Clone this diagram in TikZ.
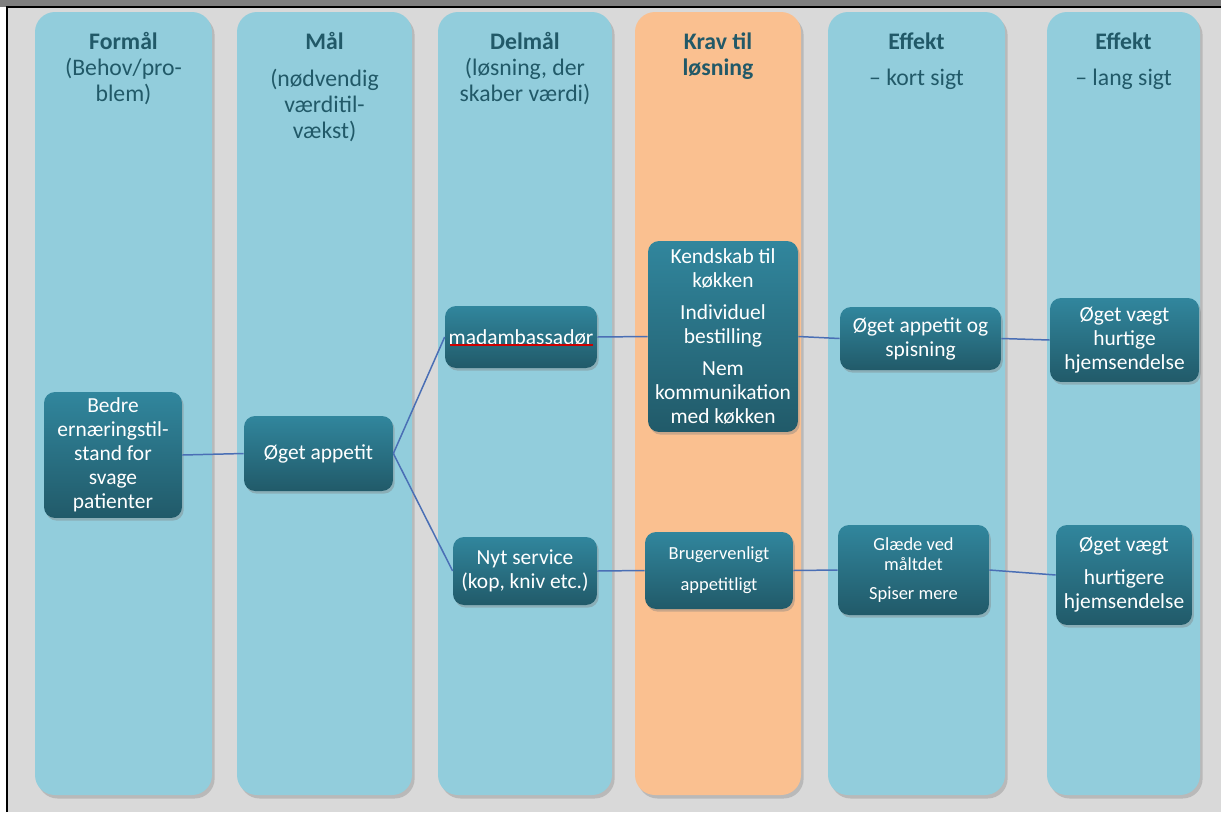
\documentclass[tikz,border=0pt]{standalone}
\usepackage{fontspec}
\setmainfont{Carlito}
\usetikzlibrary{shadows}
\definecolor{colblue}{HTML}{92CDDC}
\definecolor{colorange}{HTML}{FAC090}
\definecolor{headteal}{HTML}{215968}
\definecolor{boxtop}{HTML}{31869D}
\definecolor{boxbot}{HTML}{215A69}
\definecolor{linkblue}{HTML}{4A6FB5}
\definecolor{bggray}{HTML}{D9D9D9}
\definecolor{bargray}{HTML}{7F7F7F}

\begin{document}
\begin{tikzpicture}[x=0.02cm, y=-0.02cm,
  column/.style={rounded corners=0.4cm, drop shadow={shadow xshift=1.5pt, shadow yshift=-2pt, opacity=0.35}},
  head/.style={anchor=north, inner sep=0pt, text=headteal, align=center, font=\fontsize{13.5}{14.8}\selectfont},
  box/.style={rounded corners=0.22cm, top color=boxtop, bottom color=boxbot, text=white, align=center,
    inner sep=2pt, font=\fontsize{12.2}{13.7}\selectfont, drop shadow={shadow xshift=1pt, shadow yshift=-1.5pt, opacity=0.4}},
  small/.style={font=\fontsize{10.5}{11.5}\selectfont},
  link/.style={draw=linkblue, line width=0.85pt}]
  \useasboundingbox (0,0) rectangle (1221,812);
  % frame
  \fill[bargray] (0,0) rectangle (1221,7);
  \fill[bggray] (7,7) rectangle (1221,812);
  \draw[line width=1.5pt] (7,812) -- (7,7) -- (1221,7);
  % columns
  \fill[colblue, column] (35,12) rectangle (212,795);
  \fill[colblue, column] (237,12) rectangle (412,795);
  \fill[colblue, column] (438,12) rectangle (612,795);
  \fill[colorange, column] (635,12) rectangle (801,795);
  \fill[colblue, column] (828,12) rectangle (1005,795);
  \fill[colblue, column] (1047,12) rectangle (1200,795);
  % headings
  \node[head] (hformaal) at (123.5,32) {\textbf{Formål}\\(Behov/pro-\\blem)};
  \node[head] (hmaal) at (324.5,32) {\textbf{Mål}\\[6pt](nødvendig\\værditil-\\vækst)};
  \node[head] (hdelmaal) at (525,32) {\textbf{Delmål}\\(løsning, der\\skaber værdi)};
  \node[head] (hkrav) at (718,32) {\textbf{Krav til}\\\textbf{løsning}};
  \node[head] (hkort) at (916.5,32) {\textbf{Effekt}\\[6pt]– kort sigt};
  \node[head] (hlang) at (1123.5,32) {\textbf{Effekt}\\[6pt]– lang sigt};
  % boxes
  \node[box, minimum width=2.76cm, minimum height=2.52cm] (formaal) at (113,455)
    {Bedre\\ernæringstil-\\stand for\\svage\\patienter};
  \node[box, minimum width=2.98cm, minimum height=1.5cm] (appetit) at (318.5,453.5) {Øget appetit};
  \node[box, minimum width=3.04cm, minimum height=1.24cm] (mad) at (521,337) {madambassadør};
  \node[box, minimum width=2.88cm, minimum height=1.36cm] (service) at (525,571) {Nyt service\\(kop, kniv etc.)};
  \node[box, minimum width=3cm, minimum height=3.82cm] (kendskab) at (723,336.5)
    {Kendskab til\\køkken\\[4.5pt]Individuel\\bestilling\\[4.5pt]Nem\\kommunikation\\med køkken};
  \node[box, small, minimum width=2.96cm, minimum height=1.54cm] (bruger) at (719,570.5)
    {Brugervenligt\\[6pt]appetitligt};
  \node[box, minimum width=3.22cm, minimum height=1.26cm] (spisning) at (920.5,338.5) {Øget appetit og\\spisning};
  \node[box, small, minimum width=3.02cm, minimum height=1.8cm] (glaede) at (913.5,570)
    {Glæde ved\\måltdet\\[4.5pt]Spiser mere};
  \node[box, minimum width=2.98cm, minimum height=1.68cm] (vaegt) at (1124.5,340)
    {Øget vægt\\hurtige\\hjemsendelse};
  \node[box, minimum width=2.72cm, minimum height=2cm] (hurtigere) at (1124,575)
    {Øget vægt\\[5pt]hurtigere\\hjemsendelse};
  % spell check mark
  \draw[red!80!black, line width=0.7pt] (450,345) -- (593,345);
  % links
  \draw[link] (formaal.east) -- (appetit.west);
  \draw[link] (appetit.east) -- (mad.west);
  \draw[link] (appetit.east) -- (service.west);
  \draw[link] (mad.east) -- (kendskab.west);
  \draw[link] (kendskab.east) -- (spisning.west);
  \draw[link] (spisning.east) -- (vaegt.west);
  \draw[link] (service.east) -- (bruger.west);
  \draw[link] (bruger.east) -- (glaede.west);
  \draw[link] (glaede.east) -- (hurtigere.west);
\end{tikzpicture}
\end{document}
